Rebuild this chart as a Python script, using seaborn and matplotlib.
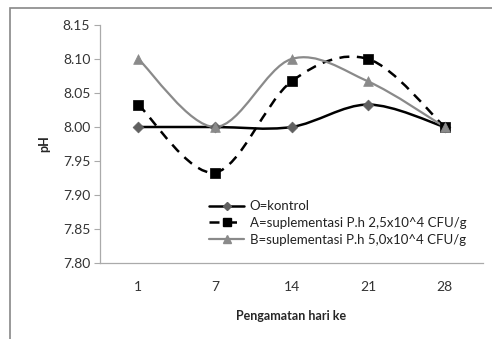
import numpy as np
import pandas as pd
import matplotlib
matplotlib.use("Agg")
import matplotlib.pyplot as plt
from matplotlib.path import Path
from matplotlib.patches import PathPatch, Rectangle
from matplotlib.lines import Line2D
import seaborn as sns

days = ["1", "7", "14", "21", "28"]
series_names = ["O=kontrol",
                "A=suplementasi P.h 2,5x10^4 CFU/g",
                "B=suplementasi P.h 5,0x10^4 CFU/g"]
ph_O = [8.000, 8.000, 8.000, 8.033, 8.000]
ph_A = [8.033, 7.933, 8.067, 8.100, 8.000]
ph_B = [8.100, 8.000, 8.100, 8.067, 8.000]
yticks = [7.80, 7.85, 7.90, 7.95, 8.00, 8.05, 8.10, 8.15]

sns.set_theme(style="white")
plt.rcParams['font.family'] = ['Lato', 'DejaVu Sans']

fig = plt.figure(figsize=(4.92, 3.39), dpi=100)
ax = fig.add_axes([100/492, 1-263/339, 383/492, 238/339])

styles = [
    dict(line="#000000", ls="-", lw=1.8, marker="D", mc="#606060", ms=5.5),
    dict(line="#000000", ls=(0, (4, 3)), lw=1.8, marker="s", mc="#000000", ms=6.5),
    dict(line="#8a8a8a", ls="-", lw=1.6, marker="^", mc="#8a8a8a", ms=7),
]
data = [ph_O, ph_A, ph_B]

def smooth_path(xs, ys):
    pts = np.column_stack([xs, ys]).astype(float)
    n = len(pts)
    verts = [pts[0]]
    codes = [Path.MOVETO]
    for i in range(n - 1):
        p0 = pts[i - 1] if i > 0 else pts[i]
        p1 = pts[i]
        p2 = pts[i + 1]
        p3 = pts[i + 2] if i + 2 < n else pts[i + 1]
        c1 = p1 + (p2 - p0) / 6.0
        c2 = p2 - (p3 - p1) / 6.0
        verts += [c1, c2, p2]
        codes += [Path.CURVE4] * 3
    return Path(verts, codes)

xpos = np.arange(len(days))
for vals, st, name in zip(data, styles, series_names):
    patch = PathPatch(smooth_path(xpos, vals), facecolor="none", edgecolor=st["line"],
                      linestyle=st["ls"], linewidth=st["lw"], zorder=2)
    ax.add_patch(patch)
    df = pd.DataFrame({"x": xpos, "y": vals})
    sns.scatterplot(data=df, x="x", y="y", marker=st["marker"], color=st["mc"],
                    s=st["ms"]**2, edgecolor=st["mc"], linewidth=0.5, ax=ax, zorder=3,
                    legend=False)

ax.set_xlim(-0.5, len(days) - 0.5)
ax.set_ylim(7.80, 8.15)
ax.set_yticks(yticks)
ax.set_yticklabels([f"{v:.2f}" for v in yticks], fontsize=10, color="#333333")
ax.set_xticks(xpos)
ax.set_xticklabels(days, fontsize=10, color="#333333")
ax.tick_params(axis="x", length=0, pad=13)
ax.tick_params(axis="y", length=4, width=0.8, color="#aaaaaa", direction="out", pad=3, left=True)
for s in ["top", "right"]:
    ax.spines[s].set_visible(False)
for s in ["left", "bottom"]:
    ax.spines[s].set_color("#aaaaaa")
    ax.spines[s].set_linewidth(0.9)

ax.set_xlabel("Pengamatan hari ke", fontsize=9, fontweight="bold", labelpad=12)
ax.set_ylabel("pH", fontsize=9, fontweight="bold", labelpad=9)

handles = [Line2D([0], [0], color=st["line"], ls=st["ls"], lw=st["lw"],
                  marker=st["marker"], markersize=st["ms"] * 0.8,
                  markerfacecolor=st["mc"], markeredgecolor=st["mc"])
           for st in styles]
ax.legend(handles, series_names, loc="upper left", bbox_to_anchor=(0.27, 0.285),
          frameon=False, fontsize=9.5, handlelength=2.7, handletextpad=0.4,
          labelspacing=0.35, borderaxespad=0, labelcolor="#222222")

fig.patches.append(Rectangle((10/492, -0.1), 1.2, 1 - 8/339 + 0.1, transform=fig.transFigure,
                             fill=False, edgecolor="#888888", linewidth=1.2, zorder=0))

fig.savefig("out.png", dpi=100)
